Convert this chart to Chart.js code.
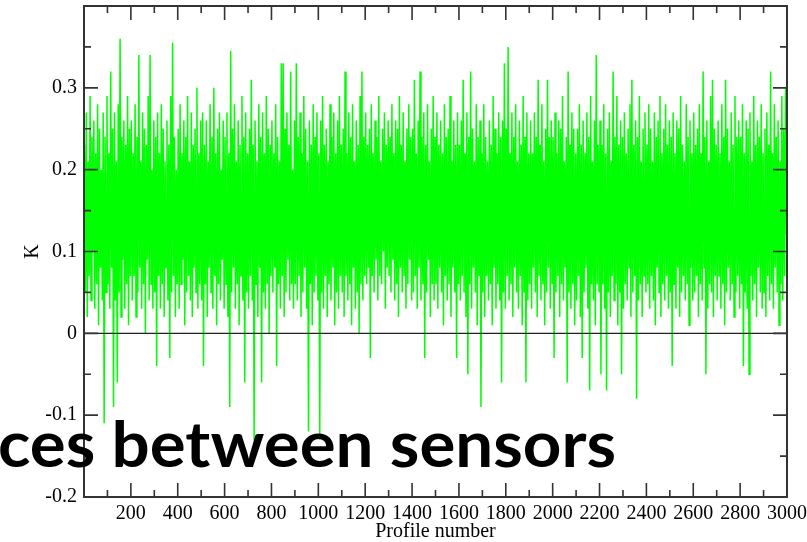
<!DOCTYPE html>
<html>
<head>
<meta charset="utf-8">
<script src="https://cdn.jsdelivr.net/npm/chart.js@4.4.1/dist/chart.umd.min.js"></script>
<style>
  html, body { margin: 0; padding: 0; background: #fff; }
  #wrap { width: 807px; height: 542px; position: relative; }
</style>
</head>
<body>
<div id="wrap"><canvas id="grafico"></canvas></div>
<script>
// =======================================================================
// DADOS (um valor a cada 4 perfis; 25 valores = 100 perfis)
// =======================================================================
const valoresK = [
  .23,.05,.27,.02,.21, .07,.29,.04,.24,.10, .26,.03,.22,.06,.28, .01,.25,.08,.20,.04, .27,-.11,.24,.05,.29,
  .06,.22,.03,.32,.08, .25,-.09,.27,.04,.21, -.06,.28,.05,.36,.02, .24,.09,.26,.03,.23, .06,.29,.01,.25,.07,
  .26,.04,.22,.07,.28, .02,.24,.05,.34,.08, .21,.03,.27,.06,.25, .00,.23,.09,.29,.04, .34,.06,.20,.03,.26,
  .05,.24,-.04,.27,.07, .22,.03,.28,.06,.25, .02,.21,.08,.26,.04, .23,-.03,.29,.05,.355, .07,.24,.02,.20,.06,
  .25,.03,.28,.06,.22, .09,.26,.01,.24,.05, .29,.07,.21,.04,.27, .02,.23,.08,.25,.05, .30,.03,.22,.06,.26,
  .04,.27,-.04,.23,.06, .26,.02,.21,.08,.28, .05,.24,.03,.30,.07, .22,.01,.25,.06,.27, .04,.20,.09,.26,.03,
  .24,.06,.27,.02,.22, -.09,.345,.05,.25,.08, .28,.03,.21,.06,.26, .01,.23,.07,.29,.04, .24,-.06,.27,.05,.22,
  .03,.25,.07,.31,.04, .23,-.13,.26,.06,.21, .02,.28,.08,.24,-.06, .27,.05,.22,.03,.29, .06,.25,.00,.23,.07,
  .26,.05,.22,.08,.28, -.04,.24,.06,.21,.03, .33,.07,.33,.02,.25, .05,.27,.09,.23,.04, .32,.06,.20,.03,.26,
  .06,.33,.04,.24,.07, .27,.02,.22,.05,.29, .08,.25,.03,.21,-.12, .26,.06,.23,.01,.28, .05,.24,.07,.27,.04,
  .22,-.13,.26,.05,.29, .03,.23,.07,.25,.02, .21,.06,.28,.04,.24, .08,.27,.01,.22,.05, .26,.03,.29,.07,.23,
  .05,.25,.02,.32,.07, .22,.04,.27,.06,.24, .01,.28,.08,.21,.03, .26,.05,.23,.00,.29, .06,.32,.04,.24,.07,
  .27,.06,.23,.08,.25, -.03,.28,.07,.22,.05, .26,.09,.24,.04,.29, .07,.21,.06,.25,.10, .27,.03,.23,.08,.26,
  .07,.24,.05,.28,.09, .22,.04,.26,.06,.25, .02,.29,.08,.23,.05, .27,.07,.21,.03,.25, .06,.28,.09,.24,.04,
  .25,.05,.31,.07,.22, .03,.26,.08,.32,.04, .24,.06,.27,-.03,.23, .05,.28,.09,.21,.02, .25,.06,.29,.04,.24,
  .06,.27,.03,.23,.08, .26,.05,.22,.01,.28, .07,.24,.04,.25,.06, .29,.02,.21,.08,.26, .05,.23,-.03,.27,.06,
  .23,.04,.26,.07,.31, .05,.22,.02,.27,-.05, .24,.06,.32,.03,.25, .08,.21,.05,.28,.01, .24,.07,.26,-.09,.22,
  .05,.28,.02,.24,.07, .21,.04,.26,.06,.23, .01,.29,.08,.25,.03, .22,.06,.27,.04,.24, -.06,.26,.05,.33,.03,
  .25,.07,.35,.04,.22, .06,.27,.02,.24,.08, .28,.05,.21,.03,.26, .07,.23,.01,.29,.05, .24,-.06,.27,.04,.22,
  .06,.26,.03,.22,.08, .27,.05,.24,.02,.31, .07,.23,.04,.28,.06, .21,.01,.25,.05,.31, .08,.24,.03,.26,.06,
  .24,-.03,.27,.05,.22, .07,.26,.02,.25,.06, .29,.04,.21,.08,.24, -.06,.32,.05,.23,.03, .27,.06,.25,.01,.22,
  .04,.25,.07,.28,.02, .23,-.03,.26,.05,.22, .08,.27,.03,.24,-.07, .29,.06,.21,.04,.26, .01,.34,.06,.23,.05,
  .26,-.05,.23,.06,.28, .03,.22,-.07,.25,.05, .27,.02,.21,.07,.32, .04,.24,.06,.29,.01, .23,.05,.26,-.05,.24,
  .03,.27,.06,.22,.04, .25,.08,.28,.02,.31, .05,.23,.07,.26,-.08, .24,.04,.29,.06,.21, .02,.25,.07,.27,.05,
  .23,.06,.28,.03,.25, .07,.21,.04,.27,.01, .24,.08,.26,.05,.29, .02,.22,.06,.25,.04, .28,.07,.23,.03,.26,
  .05,.24,-.04,.27,.06, .22,.03,.26,.08,.25, .02,.29,.05,.23,.07, .21,.04,.28,.06,.24, .01,.26,.08,.22,.04,
  .27,.05,.23,.07,.25, .02,.28,.06,.22,.04, .32,.08,.24,-.05,.26, .03,.21,.06,.29,.05, .31,.02,.25,.07,.23,
  .04,.26,.07,.22,.03, .28,.06,.24,.01,.31, .05,.25,.08,.21,.04, .27,.06,.23,.02,.29, .05,.24,.07,.26,.03,
  .24,.06,.28,-.04,.22, .05,.26,.03,.25,-.05, .27,.07,.21,.04,.29, .06,.23,.02,.26,.08, .24,.05,.28,.03,.22,
  .05,.25,.02,.27,.07, .23,.04,.32,.06,.22, .03,.28,.08,.24,.05, .26,.01,.21,.06,.29, .04,.25,.07,.30,.12
];
const perfis = valoresK.map((_, i) => i * 4 + 2);

const X_MIN = 0, X_MAX = 3000;
const Y_MIN = -0.2, Y_MAX = 0.4;

const VERDE = "#00ff00";
const EIXO = "#333333";
const FONTE = "'Liberation Serif', 'DejaVu Serif', serif";

// =======================================================================
// PLUGIN: moldura, ticks para dentro e linha do zero
// =======================================================================
const molduraGrace = {
  id: "molduraGrace",
  afterDatasetsDraw(chart) {
    const { ctx, chartArea: a, scales } = chart;
    ctx.save();
    // linha do zero
    const y0 = scales.y.getPixelForValue(0);
    ctx.strokeStyle = "#222";
    ctx.lineWidth = 1.3;
    ctx.beginPath();
    ctx.moveTo(a.left, y0);
    ctx.lineTo(a.right, y0);
    ctx.stroke();

    ctx.strokeStyle = EIXO;
    ctx.lineWidth = 1.6;
    ctx.beginPath();
    scales.x.ticks.forEach((t) => {
      const px = scales.x.getPixelForValue(t.value);
      const len = Math.round(t.value) % 200 === 0 ? 14 : 7;
      ctx.moveTo(px, a.bottom);
      ctx.lineTo(px, a.bottom - len);
      ctx.moveTo(px, a.top);
      ctx.lineTo(px, a.top + len);
    });
    scales.y.ticks.forEach((t) => {
      const py = scales.y.getPixelForValue(t.value);
      const len = Math.round(t.value * 100) % 10 === 0 ? 14 : 7;
      ctx.moveTo(a.left, py);
      ctx.lineTo(a.left + len, py);
      ctx.moveTo(a.right, py);
      ctx.lineTo(a.right - len, py);
    });
    ctx.stroke();

    ctx.lineWidth = 2;
    ctx.strokeRect(a.left, a.top, a.right - a.left, a.bottom - a.top);
    ctx.restore();
  },
  afterDraw(chart) {
    // texto sobreposto (título de slide cortado)
    const { ctx } = chart;
    const texto = "ces between sensors";
    ctx.save();
    ctx.font = "bold 64px Lato, 'Open Sans', sans-serif";
    ctx.fillStyle = "#000";
    ctx.textBaseline = "alphabetic";
    const w = ctx.measureText(texto).width;
    ctx.translate(-2, 467);
    ctx.scale(618 / w, 1);
    ctx.fillText(texto, 0, 0);
    ctx.restore();
  },
};

// =======================================================================
// GRÁFICO
// =======================================================================
document.addEventListener("DOMContentLoaded", () => {
  const ctx = document.getElementById("grafico").getContext("2d");

  new Chart(ctx, {
    type: "line",
    data: {
      datasets: [
        {
          label: "K",
          data: valoresK.map((v, i) => ({ x: perfis[i], y: v })),
          borderColor: VERDE,
          borderWidth: 1.5,
          pointRadius: 0,
          tension: 0,
          fill: false,
        },
      ],
    },
    options: {
      responsive: true,
      maintainAspectRatio: false,
      animation: false,
      events: [],
      layout: { padding: { left: 0, right: 20, top: 6, bottom: 0 } },
      plugins: { legend: { display: false }, tooltip: { enabled: false } },
      scales: {
        x: {
          type: "linear",
          min: X_MIN,
          max: X_MAX,
          grid: { display: false, drawTicks: false },
          border: { display: false },
          ticks: {
            stepSize: 100,
            maxTicksLimit: 100,
            autoSkip: false,
            maxRotation: 0,
            padding: 5,
            color: "#000",
            font: { family: FONTE, size: 20 },
            callback: (v) => (v % 200 === 0 && v !== 0 ? String(v) : ""),
          },
          title: {
            display: true,
            text: "Profile number",
            color: "#000",
            font: { family: FONTE, size: 20 },
            padding: { top: 0, bottom: -2 },
          },
          afterFit(scale) {
            scale.height = 45;
            scale.paddingLeft = 0;
            scale.paddingRight = 0;
          },
        },
        y: {
          min: Y_MIN,
          max: Y_MAX,
          grid: { display: false, drawTicks: false },
          border: { display: false },
          ticks: {
            stepSize: 0.05,
            maxTicksLimit: 50,
            autoSkip: false,
            padding: 7,
            color: "#000",
            font: { family: FONTE, size: 20 },
            callback: (v) => {
              const c = Math.round(v * 100);
              if (c % 10 !== 0 || c === 40) return "";
              return c === 0 ? "0" : (c / 100).toString();
            },
          },
          title: {
            display: true,
            text: "K",
            color: "#000",
            font: { family: FONTE, size: 20 },
            padding: { top: 21, bottom: 0 },
          },
          afterFit(scale) {
            scale.width = 84;
            scale.paddingTop = 0;
            scale.paddingBottom = 0;
          },
        },
      },
    },
    plugins: [molduraGrace],
  });
});
</script>
</body>
</html>
